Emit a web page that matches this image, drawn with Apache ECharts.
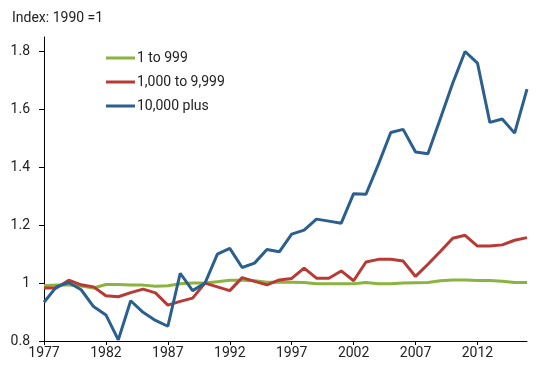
<!DOCTYPE html>
<html>
<head>
<meta charset="utf-8">
<script src="https://cdn.jsdelivr.net/npm/echarts@6/dist/echarts.min.js"></script>
<style>html,body{margin:0;padding:0;background:#fff}#c{width:550px;height:365px}</style>
</head>
<body>
<div id="c"></div>
<script>
var years = [];
for (var y = 1977; y <= 2016; y++) years.push(String(y));

var seriesNames = ['1 to 999', '1,000 to 9,999', '10,000 plus'];

var small = [0.991, 0.993, 0.993, 0.990, 0.983, 0.995, 0.995, 0.993, 0.993, 0.989,
             0.991, 0.998, 1.000, 1.000, 1.005, 1.010, 1.010, 1.008, 1.003, 1.003,
             1.003, 1.002, 0.998, 0.998, 0.998, 0.998, 1.002, 0.998, 0.998, 1.000,
             1.001, 1.002, 1.008, 1.011, 1.011, 1.009, 1.009, 1.006, 1.002, 1.002];

var medium = [0.983, 0.983, 1.010, 0.994, 0.987, 0.956, 0.953, 0.967, 0.979, 0.966,
              0.924, 0.937, 0.948, 1.000, 0.987, 0.974, 1.019, 1.006, 0.994, 1.011,
              1.016, 1.052, 1.017, 1.017, 1.042, 1.008, 1.073, 1.082, 1.082, 1.076,
              1.023, 1.065, 1.109, 1.155, 1.165, 1.128, 1.128, 1.132, 1.148, 1.157];

var large = [0.934, 0.987, 1.002, 0.977, 0.919, 0.890, 0.804, 0.939, 0.899, 0.871,
             0.851, 1.034, 0.974, 1.000, 1.100, 1.120, 1.054, 1.069, 1.116, 1.108,
             1.169, 1.183, 1.221, 1.214, 1.207, 1.309, 1.307, 1.410, 1.520, 1.531,
             1.453, 1.447, 1.568, 1.690, 1.800, 1.760, 1.555, 1.567, 1.518, 1.670];

var yTicks = [0.8, 1.0, 1.2, 1.4, 1.6, 1.8];
var colors = ['#8ab33f', '#b83a34', '#2a5f8e'];

var chart = echarts.init(document.getElementById('c'), null, {renderer: 'canvas'});
var font = 'Roboto, "Liberation Sans", sans-serif';
chart.setOption({
  animation: false,
  backgroundColor: '#fff',
  color: colors,
  title: {
    text: 'Index: 1990 =1', left: 7, top: 6,
    textStyle: {fontFamily: font, fontSize: 14, fontWeight: 'normal', color: '#222'}
  },
  legend: {
    orient: 'vertical', left: 101, top: 46, itemGap: 10,
    itemWidth: 29, itemHeight: 3, icon: 'rect',
    textStyle: {fontFamily: font, fontSize: 14, color: '#222', padding: [0, 0, 0, -3]},
    data: seriesNames
  },
  grid: {left: 44, right: 23, top: 37, bottom: 24, containLabel: false},
  xAxis: {
    type: 'category', data: years, boundaryGap: false,
    axisLine: {lineStyle: {color: '#000', width: 1}},
    axisTick: {interval: 4, length: 4, lineStyle: {color: '#000'}},
    axisLabel: {interval: 4, margin: 5, fontFamily: font, fontSize: 14, color: '#222'},
    splitLine: {show: false}
  },
  yAxis: {
    type: 'value', min: 0.8, max: 1.85,
    axisLine: {show: true, lineStyle: {color: '#000', width: 1}},
    axisTick: {show: true, length: 5, customValues: yTicks, lineStyle: {color: '#000'}},
    axisLabel: {customValues: yTicks, margin: 14, fontFamily: font, fontSize: 14, color: '#222',
      formatter: function (v) { return String(Math.round(v * 10) / 10); }},
    splitLine: {show: false}
  },
  series: [
    {name: seriesNames[0], type: 'line', data: small, showSymbol: false, lineStyle: {width: 3}, z: 2},
    {name: seriesNames[1], type: 'line', data: medium, showSymbol: false, lineStyle: {width: 3}, z: 3},
    {name: seriesNames[2], type: 'line', data: large, showSymbol: false, lineStyle: {width: 3}, z: 4}
  ]
});
</script>
</body>
</html>
